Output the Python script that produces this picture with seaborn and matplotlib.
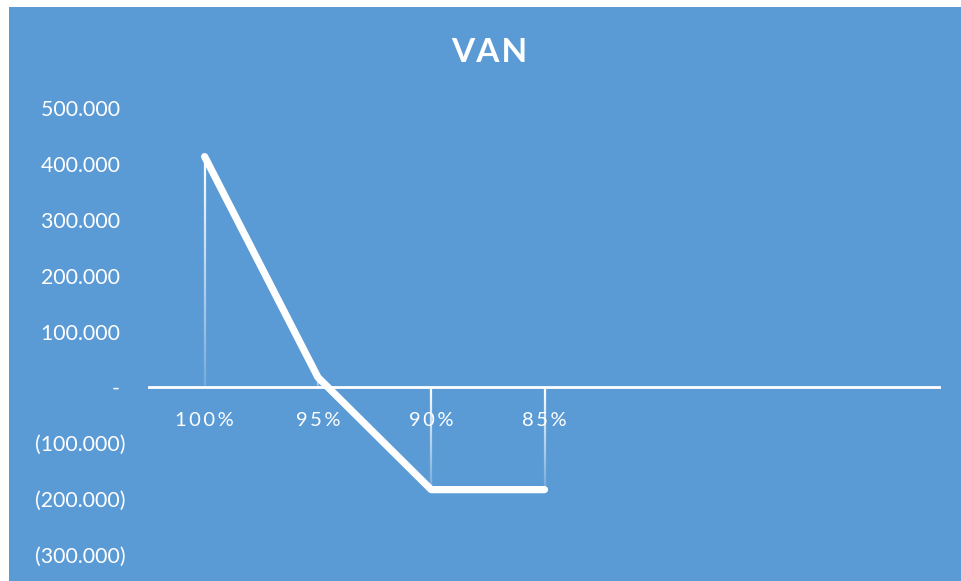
import numpy as np
import pandas as pd
import matplotlib
matplotlib.use("Agg")
import matplotlib.pyplot as plt
import seaborn as sns
from matplotlib.ticker import FixedLocator, FixedFormatter

# Net present value (VAN) by discount scenario
categories = ["100%", "95%", "90%", "85%"]
van_values = [413000, 18000, -183000, -183000]
n_slots = 7  # category slots on the horizontal axis

y_ticks = [500000, 400000, 300000, 200000, 100000, 0, -100000, -200000, -300000]
y_labels = ["500.000", "400.000", "300.000", "200.000", "100.000", "-",
            "(100.000)", "(200.000)", "(300.000)"]

BG = "#5B9BD5"
WHITE = "#FFFFFF"

sns.set_theme(style="white")
plt.rcParams["font.family"] = ["Lato", "DejaVu Sans"]

df = pd.DataFrame({"pos": np.arange(len(categories)), "van": van_values})

fig = plt.figure(figsize=(9.61, 5.81), dpi=100, facecolor="white")
# blue chart area inside a thin white margin
bg_rect = plt.Rectangle((9 / 961, 0), 1 - 9 / 961, 1 - 7 / 581,
                        transform=fig.transFigure, facecolor=BG,
                        edgecolor="none", zorder=-5)
fig.add_artist(bg_rect)
ax = fig.add_axes([148 / 961, 1 - 555 / 581, (941 - 148) / 961, (555 - 108) / 581])
ax.set_zorder(1)
ax.patch.set_visible(False)

# fading drop lines from each point to the zero line
def drop_line(x, y0, y1, steps=60):
    top, bottom = max(y0, y1), min(y0, y1)
    edges = np.linspace(top, bottom, steps + 1)
    for k in range(steps):
        a = 1.0 - 0.85 * k / steps
        ax.vlines(x, edges[k + 1], edges[k], color=WHITE, alpha=a,
                  linewidth=1.6, zorder=2)

for i, v in enumerate(van_values):
    drop_line(i, v, 0)

ax.axhline(0, color=WHITE, linewidth=2, zorder=3)

sns.lineplot(data=df, x="pos", y="van", ax=ax, color=WHITE, linewidth=5.2,
             solid_capstyle="round", solid_joinstyle="round", zorder=4,
             legend=False)

ax.set_xlim(-0.5, n_slots - 0.5)
ax.set_ylim(-300000, 500000)
ax.set_xlabel("")
ax.set_ylabel("")

# category labels sit just under the zero line
ax.spines["bottom"].set_position(("data", 0))
for s in ax.spines.values():
    s.set_visible(False)
ts = "\u2009"
ax.xaxis.set_major_locator(FixedLocator(list(range(n_slots))))
ax.xaxis.set_major_formatter(FixedFormatter(
    [ts.join(c) for c in categories] + [""] * (n_slots - len(categories))))
ax.tick_params(axis="x", length=0, pad=18, labelsize=14.5, labelcolor=WHITE)

ax.yaxis.set_major_locator(FixedLocator(y_ticks))
ax.yaxis.set_major_formatter(FixedFormatter(
    [l if l.startswith("(") else l + " " for l in y_labels]))
ax.tick_params(axis="y", length=0, pad=16, labelsize=15.3, labelcolor=WHITE)
ax.grid(False)

fig.text(489 / 961, 1 - 53 / 581, "\u200a".join("VAN"), color=WHITE, fontsize=24,
         fontweight="bold", ha="center", va="center")

fig.savefig("out.png", dpi=100, facecolor="white")
